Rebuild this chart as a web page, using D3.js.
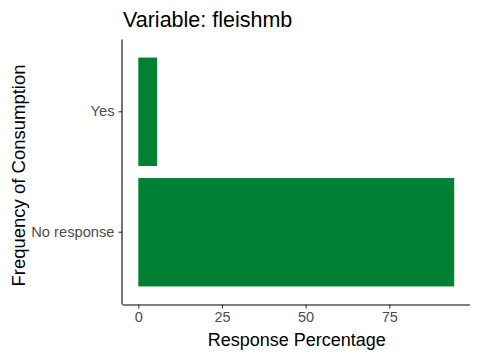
<!DOCTYPE html>
<html>
<head>
<meta charset="utf-8">
<script src="https://cdn.jsdelivr.net/npm/d3@7"></script>
<style>
  html, body { margin: 0; padding: 0; background: #fff; }
  svg { display: block; }
  text { font-family: "Liberation Sans", Arial, sans-serif; }
</style>
</head>
<body>
<svg id="chart" width="480" height="360"></svg>
<script>
const categories = ["No response", "Yes"];
const percentages = [94.4, 5.6];
const xTicks = [0, 25, 50, 75];
const titleText = "Variable: fleishmb";
const xTitle = "Response Percentage";
const yTitle = "Frequency of Consumption";

const svg = d3.select("#chart");
const panel = { left: 122.5, right: 470, top: 39.5, bottom: 304.5 };

const maxV = d3.max(percentages);
const pad = maxV * 0.05;
const x = d3.scaleLinear().domain([-pad, maxV + pad]).range([panel.left, panel.right]);

// top-to-bottom order: Yes, No response
const y = d3.scaleBand()
  .domain(categories.slice().reverse())
  .range([panel.top, panel.bottom])
  .paddingInner(0.1)
  .paddingOuter(0.15);

const data = categories.map((c, i) => ({ c, v: percentages[i] }));

svg.append("g").selectAll("rect").data(data).join("rect")
  .attr("x", x(0))
  .attr("y", d => y(d.c))
  .attr("width", d => x(d.v) - x(0))
  .attr("height", y.bandwidth())
  .attr("fill", "#008033");

// x axis
const xAxis = svg.append("g")
  .attr("transform", `translate(0,${panel.bottom})`)
  .call(d3.axisBottom(x).tickValues(xTicks).tickSize(4).tickPadding(3).tickFormat(d3.format("d")));
xAxis.select(".domain").attr("stroke", "#000").attr("stroke-width", 1.1)
  .attr("d", `M${panel.left},0.5H${panel.right}`);
xAxis.selectAll(".tick line").attr("stroke", "#333").attr("stroke-width", 1.1);
xAxis.selectAll(".tick text").attr("fill", "#4d4d4d").style("font-size", "14.5px")
  .style("font-family", "Liberation Sans, Arial, sans-serif");

// y axis
const yAxis = svg.append("g")
  .attr("transform", `translate(${panel.left},0)`)
  .call(d3.axisLeft(y).tickSize(4).tickPadding(4));
yAxis.select(".domain").attr("stroke", "#000").attr("stroke-width", 1.1)
  .attr("d", `M-0.5,${panel.top}V${panel.bottom}`);
yAxis.selectAll(".tick line").attr("stroke", "#333").attr("stroke-width", 1.1);
yAxis.selectAll(".tick text").attr("fill", "#4d4d4d").style("font-size", "14.7px")
  .style("font-family", "Liberation Sans, Arial, sans-serif");

// titles
svg.append("text")
  .attr("x", 123).attr("y", 27)
  .style("font-size", "21.5px").attr("fill", "#000")
  .text(titleText);

svg.append("text")
  .attr("x", (panel.left + panel.right) / 2 + 0.5).attr("y", 346)
  .attr("text-anchor", "middle")
  .style("font-size", "18px").attr("fill", "#000")
  .text(xTitle);

svg.append("text")
  .attr("transform", `translate(25,175.5) rotate(-90)`)
  .attr("text-anchor", "middle")
  .style("font-size", "18.5px").attr("fill", "#000")
  .text(yTitle);
</script>
</body>
</html>
